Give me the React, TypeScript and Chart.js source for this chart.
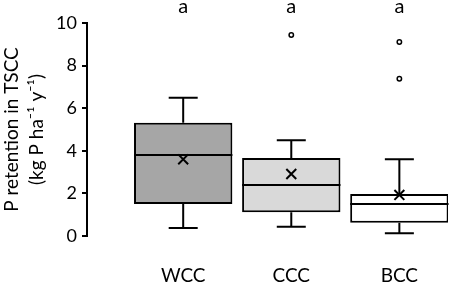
import React, { useEffect, useRef } from "react";
import { Chart, registerables } from "chart.js";

Chart.register(...registerables);

const categories = ["WCC", "CCC", "BCC"];
const q1 = [1.5, 1.11, 0.62];
const q3 = [5.32, 3.66, 1.97];
const medians = [3.8, 2.39, 1.5];
const means = [3.6, 2.91, 1.93];
const whiskerMin = [0.37, 0.44, 0.13];
const whiskerMax = [6.49, 4.49, 3.6];
const outliers = [[], [9.44], [9.11, 7.38]];
const sigLetters = ["a", "a", "a"];
const boxColors = ["#a6a6a6", "#d9d9d9", "#ffffff"];
const yTicks = [0, 2, 4, 6, 8, 10];

const FONT = "Lato, 'Open Sans', sans-serif";

const boxPlugin = {
  id: "boxExtras",
  beforeDatasetsDraw(chart: any) {
    const { ctx, scales } = chart;
    const xs = scales.x, ys = scales.y;
    ctx.save();
    ctx.strokeStyle = "#000";
    ctx.lineWidth = 2;
    categories.forEach((_, i) => {
      const x = xs.getPixelForValue(i);
      const cap = 14.5;
      ctx.beginPath();
      ctx.moveTo(x, ys.getPixelForValue(q3[i]));
      ctx.lineTo(x, ys.getPixelForValue(whiskerMax[i]));
      ctx.moveTo(x - cap, ys.getPixelForValue(whiskerMax[i]));
      ctx.lineTo(x + cap, ys.getPixelForValue(whiskerMax[i]));
      ctx.moveTo(x, ys.getPixelForValue(q1[i]));
      ctx.lineTo(x, ys.getPixelForValue(whiskerMin[i]));
      ctx.moveTo(x - cap, ys.getPixelForValue(whiskerMin[i]));
      ctx.lineTo(x + cap, ys.getPixelForValue(whiskerMin[i]));
      ctx.stroke();
    });
    ctx.restore();
  },
  afterDatasetDraw(chart: any, args: any) {
    if (args.index !== 0) return;
    const { ctx, scales } = chart;
    const ys = scales.y;
    const meta = chart.getDatasetMeta(0);
    ctx.save();
    ctx.strokeStyle = "#000";
    ctx.lineWidth = 2;
    meta.data.forEach((bar: any, i: number) => {
      const half = bar.width / 2;
      const y = ys.getPixelForValue(medians[i]);
      ctx.beginPath();
      ctx.moveTo(bar.x - half, y);
      ctx.lineTo(bar.x + half, y);
      ctx.stroke();
    });
    ctx.restore();
  },
  afterDraw(chart: any) {
    const { ctx, scales } = chart;
    ctx.save();
    ctx.fillStyle = "#000";
    ctx.font = "20px " + FONT;
    ctx.textAlign = "center";
    ctx.textBaseline = "middle";
    sigLetters.forEach((s, i) => {
      ctx.fillText(s, scales.x.getPixelForValue(i), 7);
    });
    ctx.restore();
  },
};

export default function App() {
  const ref = useRef<HTMLCanvasElement>(null);
  useEffect(() => {
    if (!ref.current) return;
    const outlierPts: { x: number; y: number }[] = [];
    outliers.forEach((arr, i) => arr.forEach((v) => outlierPts.push({ x: i, y: v })));
    const chart = new Chart(ref.current, {
      type: "bar",
      data: {
        datasets: [
          {
            type: "bar",
            data: categories.map((_, i) => ({ x: i, y: [q1[i], q3[i]] })) as any,
            backgroundColor: boxColors,
            borderColor: "#000",
            borderWidth: 2,
            borderSkipped: false,
            categoryPercentage: 1,
            barPercentage: 0.91,
            order: 2,
          } as any,
          {
            type: "scatter",
            data: categories.map((_, i) => ({ x: i, y: means[i] })),
            pointStyle: "crossRot",
            radius: 7,
            borderWidth: 2,
            borderColor: "#000",
            order: 1,
          } as any,
          {
            type: "scatter",
            data: outlierPts,
            pointStyle: "circle",
            radius: 2.2,
            borderWidth: 1.5,
            borderColor: "#000",
            backgroundColor: "#fff",
            order: 1,
          } as any,
        ],
      },
      options: {
        responsive: false,
        animation: false,
        devicePixelRatio: 1,
        layout: { padding: { top: 23, right: 2, bottom: 0, left: 0 } },
        plugins: { legend: { display: false }, tooltip: { enabled: false } },
        scales: {
          x: {
            type: "linear",
            min: -0.89,
            max: 2.45,
            offset: false,
            grid: { display: false, drawTicks: false, offset: false },
            border: { display: false },
            afterBuildTicks: (s: any) => {
              s.ticks = categories.map((_, i) => ({ value: i }));
            },
            afterFit: (s: any) => {
              s.height = 48;
            },
            ticks: {
              autoSkip: false,
              maxRotation: 0,
              padding: 28,
              color: "#000",
              font: { family: FONT, size: 19 },
              callback: (v: any) => categories[v] ?? "",
            },
          },
          y: {
            type: "linear",
            min: 0,
            max: 10,
            afterBuildTicks: (s: any) => {
              s.ticks = yTicks.map((v) => ({ value: v }));
            },
            afterFit: (s: any) => {
              s.width = 87;
            },
            grid: {
              display: true,
              drawOnChartArea: false,
              drawTicks: true,
              tickLength: 5,
              color: "#000",
              lineWidth: 2,
            },
            border: { display: true, color: "#000", width: 2 },
            ticks: {
              padding: 5,
              color: "#000",
              font: { family: FONT, size: 18 },
            },
            title: {
              display: true,
              text: ["P retention in TSCC", "(kg P ha\u207B\u00B9 y\u207B\u00B9)"],
              color: "#000",
              font: { family: FONT, size: 19, lineHeight: 1.3 },
              padding: { top: 0, bottom: 0 },
            },
          },
        },
      },
      plugins: [boxPlugin],
    });
    return () => chart.destroy();
  }, []);
  return (
    <div style={{ position: "fixed", left: 0, top: 0, width: 457, height: 284, background: "#fff" }}>
      <canvas ref={ref} width={457} height={284} />
    </div>
  );
}
